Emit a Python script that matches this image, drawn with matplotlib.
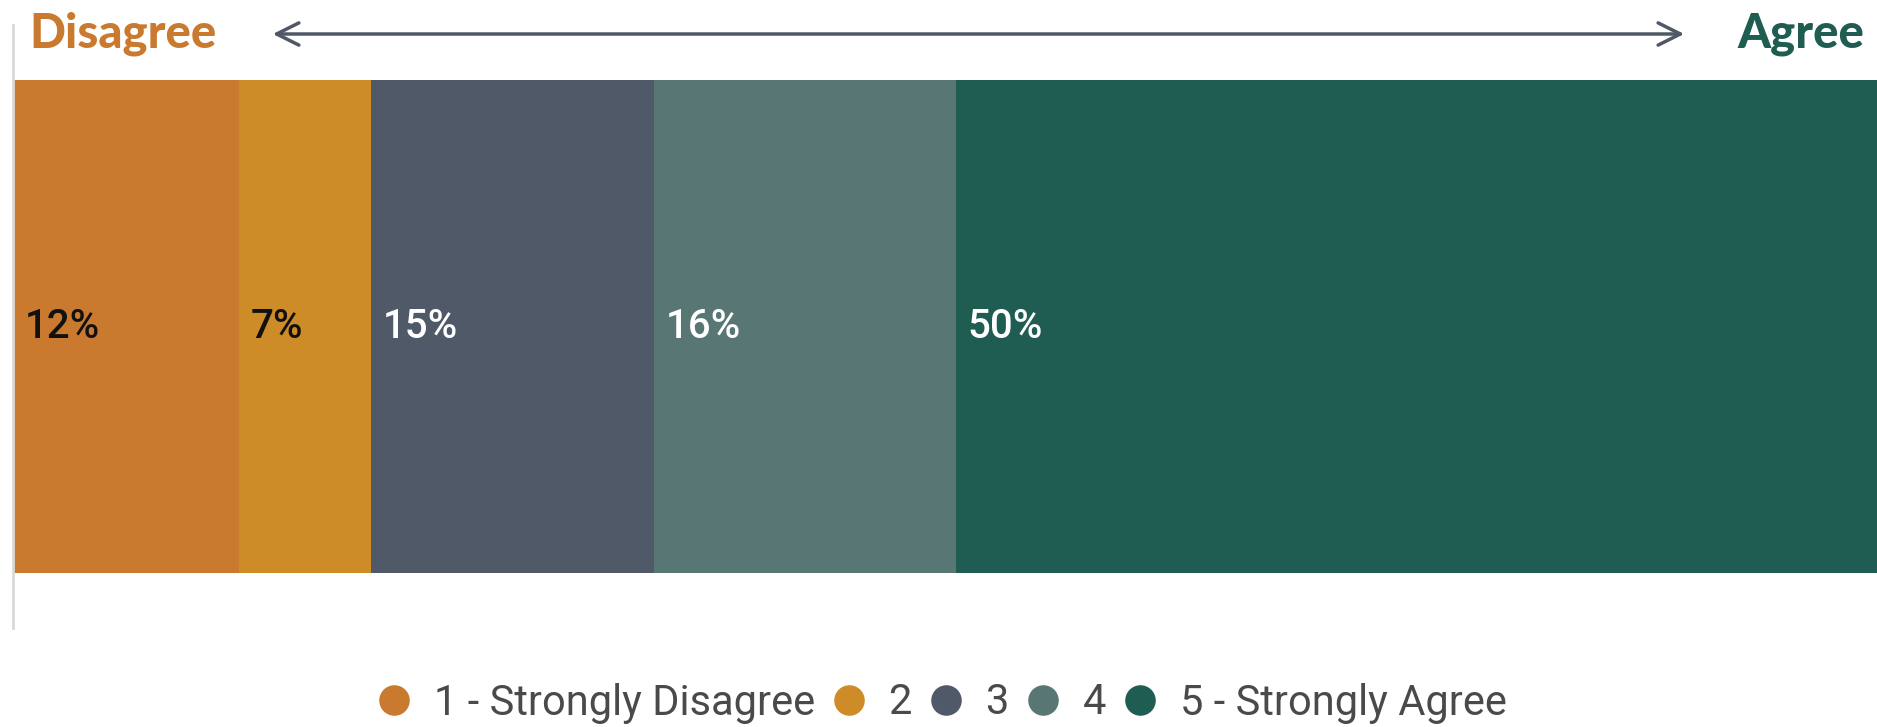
import matplotlib
matplotlib.use("Agg")
import matplotlib.pyplot as plt
from matplotlib.lines import Line2D

# data
CATEGORIES = ["1 - Strongly Disagree", "2", "3", "4", "5 - Strongly Agree"]
VALUES = [12, 7, 15, 16, 50]
COLORS = ["#CA7A2F", "#CD8C27", "#4F5967", "#587774", "#1F5C51"]
LABEL_COLORS = ["#111111", "#111111", "white", "white", "white"]

W, H, DPI = 1877, 727, 100
fig = plt.figure(figsize=(W / DPI, H / DPI), dpi=DPI)
plt.rcParams["font.family"] = ["Roboto", "DejaVu Sans"]

# axes spans the grey left line: y 25..628 px, x from 13 px
ax = fig.add_axes([13 / W, (H - 628) / H, 1 - 13 / W, 603 / H])

left = 0
for val, col, lc in zip(VALUES, COLORS, LABEL_COLORS):
    ax.barh(0, val, left=left, height=0.8176, color=col, edgecolor="none")
    ax.text(left + 0.6, 0, f"{val}%", va="center", ha="left",
            fontsize=29, color=lc, family="Roboto", fontweight="medium")
    left += val

# the last segment runs past the right edge in the original
ax.set_xlim(0, 98.8)
ax.set_ylim(-0.5, 0.5)
ax.set_xticks([])
ax.set_yticks([])
for s in ["top", "right", "bottom"]:
    ax.spines[s].set_visible(False)
ax.spines["left"].set_color("#D9D9D9")
ax.spines["left"].set_linewidth(2)

# header: Disagree <----> Agree
fig.text(29 / W, 1 - 47 / H, "Disagree", fontsize=34, fontweight="black",
         color="#CA7A2F", family="Lato", ha="left", va="baseline")
fig.text(1864 / W, 1 - 47 / H, "Agree", fontsize=34, fontweight="black",
         color="#1F5C51", family="Lato", ha="right", va="baseline")
fig.add_artist(matplotlib.patches.FancyArrowPatch(
    (270 / W, 1 - 34 / H), (1687 / W, 1 - 34 / H),
    transform=fig.transFigure, arrowstyle="<->,head_length=1.6,head_width=0.8",
    color="#4F5866", linewidth=2.5, mutation_scale=10))

handles = [Line2D([0], [0], marker="o", linestyle="none", markersize=22,
                  markerfacecolor=c, markeredgecolor="none") for c in COLORS]
fig.legend(handles, CATEGORIES, loc="center", bbox_to_anchor=(942 / W, 1 - 703 / H),
           ncol=5, frameon=False, fontsize=30, labelcolor="#4A4A4A",
           handletextpad=0.55, columnspacing=0.42, handlelength=0.8,
           borderaxespad=0, borderpad=0)

fig.savefig("out.png", dpi=DPI)
